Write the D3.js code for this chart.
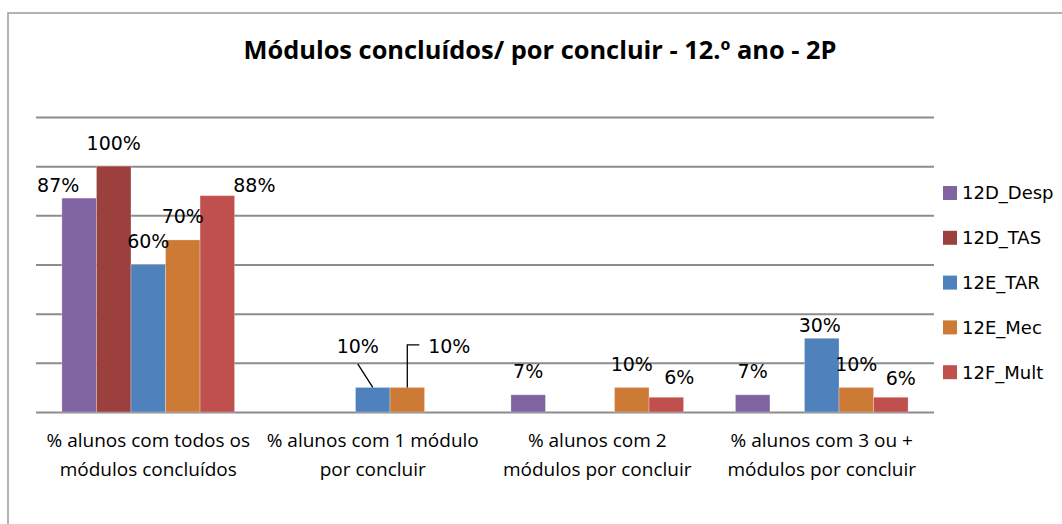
<!DOCTYPE html>
<html>
<head>
<meta charset="utf-8">
<script src="https://cdn.jsdelivr.net/npm/d3@7"></script>
<style>
  html, body { margin: 0; padding: 0; background: #fff; }
  svg { display: block; }
</style>
</head>
<body>
<svg id="chart" width="1062" height="524"></svg>
<script>
// ---- data ----
const title = "Módulos concluídos/ por concluir - 12.º ano - 2P";
const categories = [
  ["% alunos com todos os", "módulos concluídos"],
  ["% alunos com 1 módulo", "por concluir"],
  ["% alunos com 2", "módulos por concluir"],
  ["% alunos com 3 ou +", "módulos por concluir"]
];
const seriesNames = ["12D_Desp", "12D_TAS", "12E_TAR", "12E_Mec", "12F_Mult"];
const desp = [0.87, null, 0.07, 0.07];
const tas  = [1.00, null, null, null];
const tar  = [0.60, 0.10, null, 0.30];
const mec  = [0.70, 0.10, 0.10, 0.10];
const mult = [0.88, null, 0.06, 0.06];
const yTicks = [0, 0.2, 0.4, 0.6, 0.8, 1.0, 1.2];

// ---- styles / layout ----
const colors = ["#8064A2", "#9B403D", "#4F81BD", "#CD7A37", "#C0504D"];
const seriesValues = [desp, tas, tar, mec, mult];
// manual label nudges (dx, dy) relative to default "outside end" position, keyed "series|category"
const nudges = {
  "0|0": [-21, 10], "4|0": [37, 13],
  "2|1": [-15, -18], "3|1": [42, -18],
  "4|2": [13, 3],
  "2|3": [-2, 10], "4|3": [10, 4]
};

const svg = d3.select("#chart");
const W = 1062, H = 524;
const plot = { left: 36, right: 934, top: 117, bottom: 412 };

// chart border
svg.append("rect").attr("x", 8).attr("y", 13).attr("width", W + 10).attr("height", H + 10)
  .attr("fill", "#fff").attr("stroke", "#9a9a9a").attr("stroke-width", 1.5);

// title
svg.append("text").attr("x", 540).attr("y", 59).attr("text-anchor", "middle")
  .attr("font-family", "'Liberation Sans Narrow', 'Open Sans', sans-serif")
  .attr("font-weight", "bold").attr("font-size", 25).attr("fill", "#000")
  .attr("textLength", 593).attr("lengthAdjust", "spacingAndGlyphs")
  .text(title);

const cats = d3.range(categories.length);
const x0 = d3.scaleBand().domain(cats).range([plot.left, plot.right]).paddingInner(0).paddingOuter(0);
const x1 = d3.scaleBand().domain(d3.range(seriesNames.length)).range([0, x0.bandwidth()]).paddingInner(0).paddingOuter(0.75);
const y = d3.scaleLinear().domain([0, 1.2]).range([plot.bottom, plot.top]);

// gridlines via axis
const yAxis = d3.axisLeft(y).tickValues(yTicks).tickSize(-(plot.right - plot.left)).tickFormat("");
const gy = svg.append("g").attr("transform", `translate(${plot.left},0)`).call(yAxis);
gy.select(".domain").remove();
gy.selectAll(".tick line").attr("stroke", "#8c8c8c").attr("stroke-width", 2);

// bars
const flat = [];
seriesValues.forEach((arr, s) => arr.forEach((v, c) => { if (v !== null) flat.push({ s, c, v }); }));

svg.append("g").selectAll("rect").data(flat).join("rect")
  .attr("x", d => x0(d.c) + x1(d.s))
  .attr("y", d => y(d.v))
  .attr("width", x1.bandwidth())
  .attr("height", d => y(0) - y(d.v))
  .attr("fill", d => colors[d.s])
  .attr("stroke", "rgba(255,255,255,0.35)").attr("stroke-width", 0.8);

// data labels
const labelFont = "'DejaVu Sans', Verdana, sans-serif";
const lbl = flat.map(d => {
  const n = nudges[d.s + "|" + d.c] || [0, 0];
  return { ...d, lx: x0(d.c) + x1(d.s) + x1.bandwidth() / 2 + n[0], ly: y(d.v) - 16.5 + n[1] };
});
svg.append("g").selectAll("text").data(lbl).join("text")
  .attr("x", d => d.lx).attr("y", d => d.ly).attr("text-anchor", "middle")
  .attr("font-family", labelFont).attr("font-size", 19).attr("fill", "#000")
  .text(d => Math.round(d.v * 100) + "%");

// leader lines for moved labels in category 2
const leader = svg.append("g").attr("fill", "none").attr("stroke", "#000").attr("stroke-width", 1.3);
const tarL = lbl.find(d => d.s === 2 && d.c === 1);
const mecL = lbl.find(d => d.s === 3 && d.c === 1);
if (tarL) {
  const bx = x0(1) + x1(2) + x1.bandwidth() / 2;
  leader.append("path").attr("d", `M${tarL.lx},${tarL.ly + 11}L${bx},${y(tarL.v)}`);
}
if (mecL) {
  const bx = x0(1) + x1(3) + x1.bandwidth() / 2;
  leader.append("path").attr("d", `M${mecL.lx - 30},${mecL.ly - 8}H${bx}V${y(mecL.v)}`);
}

// category labels
const catG = svg.append("g");
categories.forEach((lines, c) => {
  const cx = x0(c) + x0.bandwidth() / 2;
  lines.forEach((t, i) => {
    catG.append("text").attr("x", cx).attr("y", 447 + i * 29).attr("text-anchor", "middle")
      .attr("font-family", "'Liberation Sans Narrow', 'Open Sans', sans-serif")
      .attr("font-size", 19).attr("fill", "#000").text(t);
  });
});

// legend
const leg = svg.append("g");
seriesNames.forEach((name, i) => {
  const cy = 193 + i * 44.8;
  leg.append("rect").attr("x", 943).attr("y", cy - 7).attr("width", 14).attr("height", 14).attr("fill", colors[i]);
  leg.append("text").attr("x", 962).attr("y", cy).attr("dy", "0.36em")
    .attr("font-family", labelFont).attr("font-size", 18).attr("fill", "#000").text(name);
});
</script>
</body>
</html>
